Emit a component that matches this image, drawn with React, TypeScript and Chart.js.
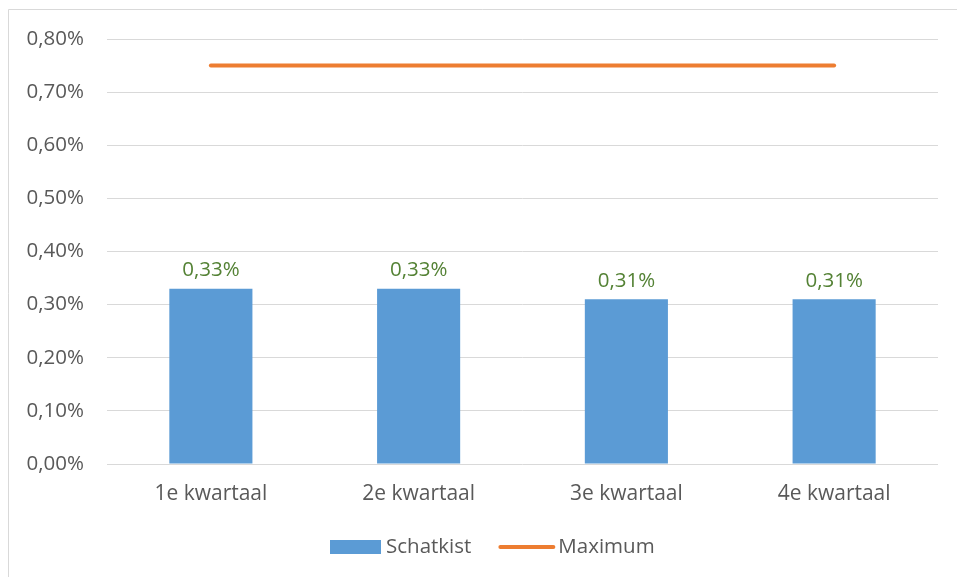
import React, { useEffect, useRef } from "react";
import { Chart, registerables } from "chart.js";

Chart.register(...registerables);

const categories = ["1e kwartaal", "2e kwartaal", "3e kwartaal", "4e kwartaal"];
const schatkist = [0.33, 0.33, 0.31, 0.31];
const maximum = [0.75, 0.75, 0.75, 0.75];
const yTicks = [0, 0.1, 0.2, 0.3, 0.4, 0.5, 0.6, 0.7, 0.8];

const FONT = "'Open Sans', 'Noto Sans', sans-serif";
const fmt = (v: number) => v.toFixed(2).replace(".", ",") + "%";

const framePlugin = {
  id: "frame",
  beforeDraw(chart: any) {
    const ctx = chart.ctx;
    ctx.save();
    ctx.fillStyle = "#ffffff";
    ctx.fillRect(0, 0, chart.width, chart.height);
    ctx.strokeStyle = "#d9d9d9";
    ctx.lineWidth = 1;
    ctx.beginPath();
    ctx.moveTo(8.5, chart.height);
    ctx.lineTo(8.5, 9.5);
    ctx.lineTo(chart.width, 9.5);
    ctx.stroke();
    ctx.restore();
  },
};

const labelsPlugin = {
  id: "barLabels",
  afterDatasetsDraw(chart: any) {
    const ctx = chart.ctx;
    const meta = chart.getDatasetMeta(0);
    ctx.save();
    ctx.fillStyle = "#548235";
    ctx.font = `20.5px ${FONT}`;
    ctx.textAlign = "center";
    ctx.textBaseline = "bottom";
    meta.data.forEach((bar: any, i: number) => {
      ctx.fillText(fmt(schatkist[i]), bar.x, bar.y - 8);
    });
    ctx.restore();
  },
};

const legendPlugin = {
  id: "customLegend",
  afterDraw(chart: any) {
    const ctx = chart.ctx;
    ctx.save();
    ctx.font = `20.5px ${FONT}`;
    ctx.textBaseline = "middle";
    ctx.textAlign = "left";
    const y = 547;
    let x = 330;
    ctx.fillStyle = "#5B9BD5";
    ctx.fillRect(x, y - 7, 51, 14);
    x += 56;
    ctx.fillStyle = "#595959";
    ctx.fillText(chart.data.datasets[0].label, x, y);
    x += ctx.measureText(chart.data.datasets[0].label).width + 27;
    ctx.strokeStyle = "#ED7D31";
    ctx.lineWidth = 4;
    ctx.lineCap = "round";
    ctx.beginPath();
    ctx.moveTo(x + 2, y);
    ctx.lineTo(x + 55, y);
    ctx.stroke();
    x += 60;
    ctx.fillText(chart.data.datasets[1].label, x, y);
    ctx.restore();
  },
};

export default function App() {
  const ref = useRef<HTMLCanvasElement | null>(null);
  useEffect(() => {
    if (!ref.current) return;
    const chart = new Chart(ref.current, {
      type: "bar",
      data: {
        labels: categories,
        datasets: [
          {
            type: "bar",
            label: "Schatkist",
            data: schatkist,
            backgroundColor: "#5B9BD5",
            barPercentage: 0.4,
            categoryPercentage: 1,
            order: 2,
          },
          {
            type: "line",
            label: "Maximum",
            data: maximum,
            borderColor: "#ED7D31",
            backgroundColor: "#ED7D31",
            borderWidth: 4,
            borderCapStyle: "round",
            pointRadius: 0,
            fill: false,
            order: 1,
          } as any,
        ],
      },
      options: {
        responsive: false,
        animation: false,
        layout: { padding: { top: 39, right: 19, bottom: 0, left: 0 } },
        plugins: {
          legend: { display: false },
          tooltip: { enabled: false },
        },
        scales: {
          x: {
            grid: { display: false, drawTicks: false },
            border: { display: false },
            ticks: { color: "#595959", font: { family: FONT, size: 21 }, padding: 17 },
            afterFit: (s: any) => {
              s.height = 113;
            },
          },
          y: {
            min: 0,
            max: 0.8,
            afterBuildTicks: (s: any) => {
              s.ticks = yTicks.map((v) => ({ value: v }));
            },
            grid: { color: "#d9d9d9", lineWidth: 1, drawTicks: false },
            border: { display: false },
            ticks: {
              color: "#595959",
              font: { family: FONT, size: 20.5 },
              padding: 23,
              callback: (v: any) => fmt(Number(v)),
            },
            afterFit: (s: any) => {
              s.width = 107;
            },
          },
        },
      },
      plugins: [framePlugin, labelsPlugin, legendPlugin],
    });
    return () => chart.destroy();
  }, []);
  return (
    <div style={{ position: "absolute", left: 0, top: 0, width: 957, height: 577 }}>
      <canvas ref={ref} width={957} height={577} />
    </div>
  );
}
